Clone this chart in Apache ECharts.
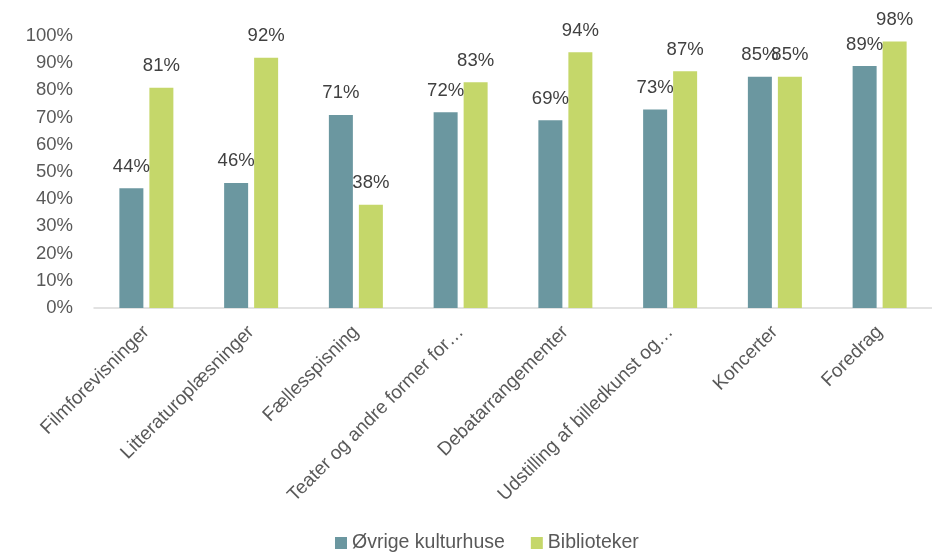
<!DOCTYPE html>
<html>
<head>
<meta charset="utf-8">
<script src="https://cdn.jsdelivr.net/npm/echarts@6/dist/echarts.min.js"></script>
<style>
  html, body { margin: 0; padding: 0; background: #fff; }
  #chart { width: 932px; height: 554px; }
</style>
</head>
<body>
<div id="chart"></div>
<script>
const CATEGORIES = [
  "Filmforevisninger", "Litteraturoplæsninger", "Fællesspisning",
  "Teater og andre former for…", "Debatarrangementer",
  "Udstilling af billedkunst og…", "Koncerter", "Foredrag",
];
const OVRIGE = [44, 46, 71, 72, 69, 73, 85, 89];
const BIBLIOTEKER = [81, 92, 38, 83, 94, 87, 85, 98];
const Y_TICKS = [0, 10, 20, 30, 40, 50, 60, 70, 80, 90, 100];

const FONT = "Liberation Sans, Arial, sans-serif";

const chart = echarts.init(document.getElementById("chart"));

function barSeries(name, data, color) {
  return {
    name,
    type: "bar",
    data,
    barWidth: 24,
    barGap: "25%",
    itemStyle: { color },
    label: {
      show: true,
      position: "top",
      distance: 12,
      formatter: ({ value }) => value + "%",
      color: "#404040",
      fontSize: 18.5,
      fontFamily: FONT,
    },
  };
}

chart.setOption({
  animation: false,
  textStyle: { fontFamily: FONT },
  grid: { top: 36, left: 94, right: 0, bottom: 246 },
  legend: {
    bottom: -4,
    left: 330,
    itemWidth: 12,
    itemHeight: 12,
    itemGap: 26,
    icon: "rect",
    textStyle: { color: "#595959", fontSize: 19.5, fontFamily: FONT },
    data: ["Øvrige kulturhuse", "Biblioteker"],
  },
  xAxis: {
    type: "category",
    data: CATEGORIES,
    axisLine: { lineStyle: { color: "#d9d9d9", width: 1.5 } },
    axisTick: { show: false },
    axisLabel: {
      rotate: 45,
      interval: 0,
      margin: 21,
      color: "#595959",
      fontSize: 19,
      fontFamily: FONT,
    },
  },
  yAxis: {
    type: "value",
    min: Y_TICKS[0],
    max: Y_TICKS[Y_TICKS.length - 1],
    interval: 10,
    splitLine: { show: false },
    axisLine: { show: false },
    axisTick: { show: false },
    axisLabel: {
      formatter: v => v + "%",
      color: "#595959",
      fontSize: 18.5,
      margin: 21,
      fontFamily: FONT,
    },
  },
  series: [
    barSeries("Øvrige kulturhuse", OVRIGE, "#6b97a0"),
    barSeries("Biblioteker", BIBLIOTEKER, "#c5d76a"),
  ],
});
</script>
</body>
</html>
